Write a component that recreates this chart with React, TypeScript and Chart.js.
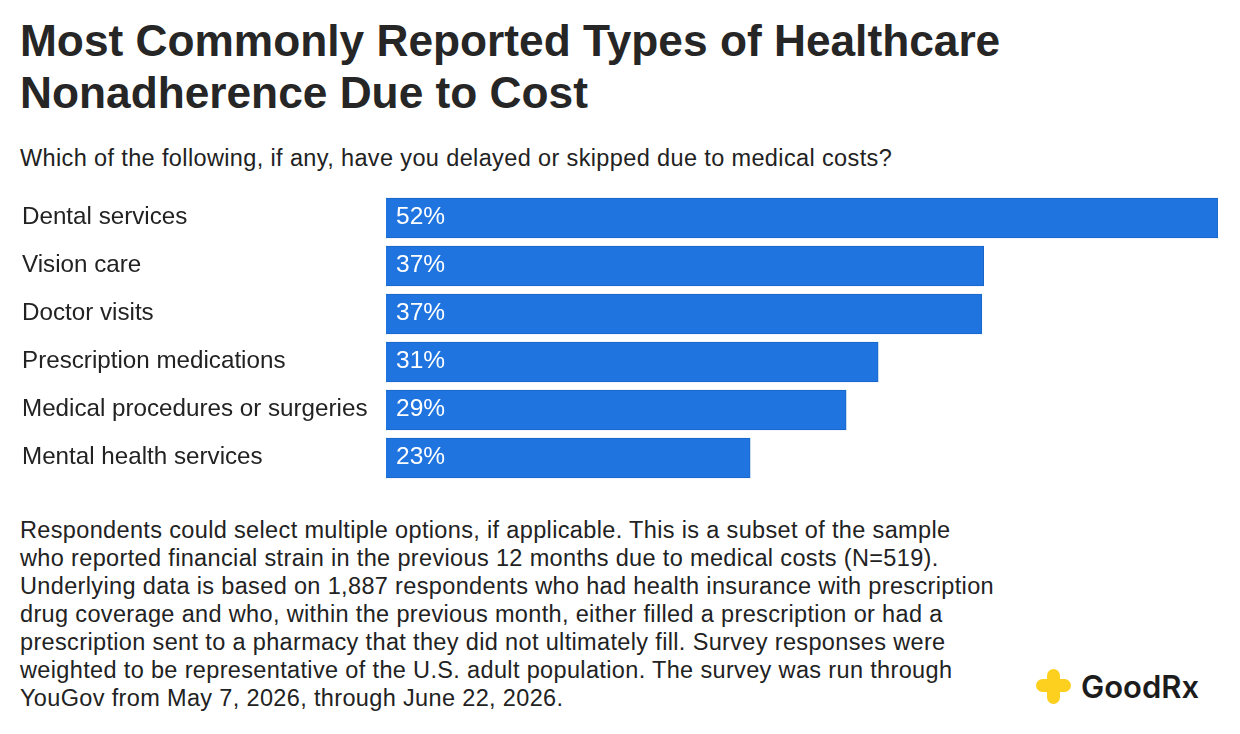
import { useEffect, useRef } from 'react';
import Chart from 'chart.js/auto';

const categories = ['Dental services', 'Vision care', 'Doctor visits', 'Prescription medications', 'Medical procedures or surgeries', 'Mental health services'];
const values = [52, 37.36, 37.24, 30.76, 28.76, 22.76];
const valueLabels = ['52%', '37%', '37%', '31%', '29%', '23%'];
const titleLines = ['Most Commonly Reported Types of Healthcare', 'Nonadherence Due to Cost'];
const subtitle = 'Which of the following, if any, have you delayed or skipped due to medical costs?';
const noteLines = [
  'Respondents could select multiple options, if applicable. This is a subset of the sample',
  'who reported financial strain in the previous 12 months due to medical costs (N=519).',
  'Underlying data is based on 1,887 respondents who had health insurance with prescription',
  'drug coverage and who, within the previous month, either filled a prescription or had a',
  'prescription sent to a pharmacy that they did not ultimately fill. Survey responses were',
  'weighted to be representative of the U.S. adult population. The survey was run through',
  'YouGov from May 7, 2026, through June 22, 2026.',
];

const FONT = '"Liberation Sans", Arial, sans-serif';

export default function App() {
  const canvasRef = useRef<HTMLCanvasElement>(null);

  useEffect(() => {
    document.body.style.margin = '0';
    document.body.style.background = '#fff';
    if (!canvasRef.current) return;

    const barLabels = {
      id: 'barLabels',
      afterDatasetsDraw(chart: any) {
        const ctx = chart.ctx;
        const meta = chart.getDatasetMeta(0);
        ctx.save();
        ctx.fillStyle = '#ffffff';
        ctx.font = `24.5px ${FONT}`;
        ctx.textAlign = 'left';
        ctx.textBaseline = 'middle';
        meta.data.forEach((bar: any, i: number) => {
          ctx.fillText(valueLabels[i], chart.scales.x.left + 10, bar.y - 1);
        });
        ctx.restore();
      },
    };

    const chart = new Chart(canvasRef.current, {
      type: 'bar',
      data: {
        labels: categories,
        datasets: [{
          data: values,
          backgroundColor: '#1f74e0',
          borderColor: '#1a66c8',
          borderWidth: 1,
          barThickness: 40,
        }],
      },
      options: {
        indexAxis: 'y',
        responsive: false,
        animation: false,
        layout: { padding: { left: 22, right: 22, top: 0, bottom: 0 } },
        plugins: { legend: { display: false }, tooltip: { enabled: false } },
        scales: {
          x: { display: false, min: 0, max: 52 },
          y: {
            afterFit: (scale: any) => {
              scale.width = 364;
              // keep the category bands on the full canvas height
              scale.paddingTop = 0;
              scale.paddingBottom = 0;
            },
            border: { display: false },
            grid: { display: false },
            ticks: { color: '#222222', font: { size: 24.2, family: FONT }, crossAlign: 'far', padding: 0, labelOffset: -1 },
          },
        },
      },
      plugins: [barLabels],
    });

    return () => chart.destroy();
  }, []);

  return (
    <div style={{ position: 'relative', width: 1240, height: 734, background: '#fff', overflow: 'hidden', fontFamily: FONT, color: '#222' }}>
      <div style={{ position: 'absolute', left: 20, top: 15, fontSize: 44.25, fontWeight: 700, lineHeight: '52px', color: '#262626' }}>
        {titleLines.map((l) => <div key={l} style={{ whiteSpace: 'nowrap' }}>{l}</div>)}
      </div>
      <div style={{ position: 'absolute', left: 20, top: 144, fontSize: 23.5, lineHeight: '28px', letterSpacing: 0.37, whiteSpace: 'nowrap' }}>{subtitle}</div>
      <canvas ref={canvasRef} width={1240} height={288} style={{ position: 'absolute', left: 0, top: 194, width: 1240, height: 288 }} />
      <div style={{ position: 'absolute', left: 20, top: 516, fontSize: 23.5, lineHeight: '28px', letterSpacing: 0.35 }}>
        {noteLines.map((l) => <div key={l} style={{ whiteSpace: 'nowrap' }}>{l}</div>)}
      </div>
      <div style={{ position: 'absolute', left: 1081, top: 668, fontFamily: 'Inter, sans-serif', fontSize: 31, fontWeight: 600, color: '#1c1c1c' }}>GoodRx</div>
      <svg style={{ position: 'absolute', left: 1035, top: 668 }} width="37" height="37" viewBox="0 0 37 37">
        <rect x="12" y="1" width="13" height="35" rx="6.5" fill="#fdd01f" />
        <rect x="1" y="11" width="35" height="13" rx="6.5" fill="#fdd01f" />
      </svg>
    </div>
  );
}
